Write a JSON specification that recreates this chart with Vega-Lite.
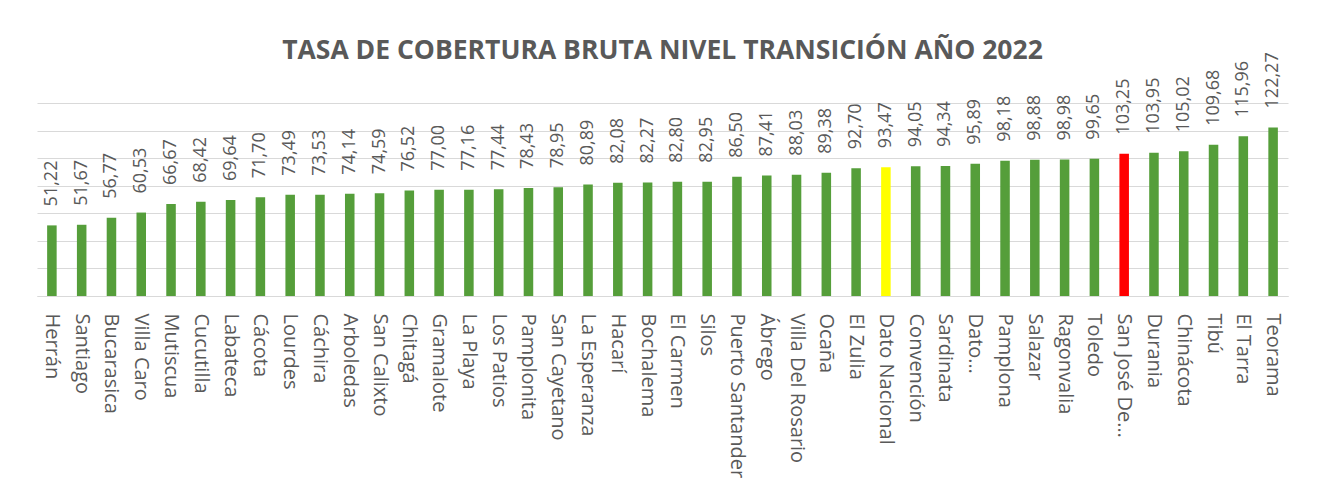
{
  "$schema": "https://vega.github.io/schema/vega-lite/v6.json",
  "width": 1251,
  "height": 193,
  "autosize": {"type": "none"},
  "padding": {"left": 37, "top": 103, "right": 29, "bottom": 199},
  "background": "white",
  "config": {
    "view": {"stroke": null},
    "locale": {"number": {"decimal": ",", "thousands": ".", "grouping": [3], "currency": ["$", ""]}}
  },
  "title": {
    "text": "TASA DE COBERTURA BRUTA NIVEL TRANSICIÓN AÑO 2022",
    "font": "Open Sans",
    "fontSize": 26.5,
    "fontWeight": "bold",
    "color": "#595959",
    "anchor": "middle",
    "frame": "group",
    "offset": -12
  },
  "data": {
    "values": [
      {"municipio": "Herrán", "tasa": 51.22, "tipo": "m"},
      {"municipio": "Santiago", "tasa": 51.67, "tipo": "m"},
      {"municipio": "Bucarasica", "tasa": 56.77, "tipo": "m"},
      {"municipio": "Villa Caro", "tasa": 60.53, "tipo": "m"},
      {"municipio": "Mutiscua", "tasa": 66.67, "tipo": "m"},
      {"municipio": "Cucutilla", "tasa": 68.42, "tipo": "m"},
      {"municipio": "Labateca", "tasa": 69.64, "tipo": "m"},
      {"municipio": "Cácota", "tasa": 71.70, "tipo": "m"},
      {"municipio": "Lourdes", "tasa": 73.49, "tipo": "m"},
      {"municipio": "Cáchira", "tasa": 73.53, "tipo": "m"},
      {"municipio": "Arboledas", "tasa": 74.14, "tipo": "m"},
      {"municipio": "San Calixto", "tasa": 74.59, "tipo": "m"},
      {"municipio": "Chitagá", "tasa": 76.52, "tipo": "m"},
      {"municipio": "Gramalote", "tasa": 77.00, "tipo": "m"},
      {"municipio": "La Playa", "tasa": 77.16, "tipo": "m"},
      {"municipio": "Los Patios", "tasa": 77.44, "tipo": "m"},
      {"municipio": "Pamplonita", "tasa": 78.43, "tipo": "m"},
      {"municipio": "San Cayetano", "tasa": 78.95, "tipo": "m"},
      {"municipio": "La Esperanza", "tasa": 80.89, "tipo": "m"},
      {"municipio": "Hacarí", "tasa": 82.08, "tipo": "m"},
      {"municipio": "Bochalema", "tasa": 82.27, "tipo": "m"},
      {"municipio": "El Carmen", "tasa": 82.80, "tipo": "m"},
      {"municipio": "Silos", "tasa": 82.95, "tipo": "m"},
      {"municipio": "Puerto Santander", "tasa": 86.50, "tipo": "m"},
      {"municipio": "Ábrego", "tasa": 87.41, "tipo": "m"},
      {"municipio": "Villa Del Rosario", "tasa": 88.03, "tipo": "m"},
      {"municipio": "Ocaña", "tasa": 89.38, "tipo": "m"},
      {"municipio": "El Zulia", "tasa": 92.70, "tipo": "m"},
      {"municipio": "Dato Nacional", "tasa": 93.47, "tipo": "nacional"},
      {"municipio": "Convención", "tasa": 94.05, "tipo": "m"},
      {"municipio": "Sardinata", "tasa": 94.34, "tipo": "m"},
      {"municipio": "Dato…", "tasa": 95.89, "tipo": "m"},
      {"municipio": "Pamplona", "tasa": 98.18, "tipo": "m"},
      {"municipio": "Salazar", "tasa": 98.88, "tipo": "m"},
      {"municipio": "Ragonvalia", "tasa": 98.98, "tipo": "m"},
      {"municipio": "Toledo", "tasa": 99.65, "tipo": "m"},
      {"municipio": "San José De…", "tasa": 103.25, "tipo": "capital"},
      {"municipio": "Durania", "tasa": 103.95, "tipo": "m"},
      {"municipio": "Chinácota", "tasa": 105.02, "tipo": "m"},
      {"municipio": "Tibú", "tasa": 109.68, "tipo": "m"},
      {"municipio": "El Tarra", "tasa": 115.96, "tipo": "m"},
      {"municipio": "Teorama", "tasa": 122.27, "tipo": "m"}
    ]
  },
  "encoding": {
    "x": {
      "field": "municipio",
      "type": "nominal",
      "sort": null,
      "title": null,
      "scale": {"paddingInner": 0.68, "paddingOuter": 0.34},
      "axis": {
        "labelAngle": 90,
        "labelAlign": "left",
        "labelBaseline": "middle",
        "labelFont": "Open Sans",
        "labelFontSize": 20,
        "labelColor": "#595959",
        "labelPadding": 17,
        "labelLimit": 300,
        "ticks": false,
        "domainColor": "#D9D9D9",
        "domainWidth": 1,
        "grid": false
      }
    },
    "y": {
      "field": "tasa",
      "type": "quantitative",
      "title": null,
      "scale": {"domain": [0, 140], "nice": false},
      "axis": {
        "values": [0, 20, 40, 60, 80, 100, 120, 140],
        "labels": false,
        "ticks": false,
        "domain": false,
        "grid": true,
        "gridColor": "#D9D9D9",
        "gridWidth": 1
      }
    }
  },
  "layer": [
    {
      "mark": {"type": "bar"},
      "encoding": {
        "color": {
          "field": "tipo",
          "type": "nominal",
          "scale": {"domain": ["m", "nacional", "capital"], "range": ["#559E3A", "#FFFF00", "#FF0000"]},
          "legend": null
        }
      }
    },
    {
      "mark": {
        "type": "text",
        "angle": 270,
        "align": "left",
        "baseline": "middle",
        "dx": 19,
        "font": "Open Sans",
        "fontSize": 18,
        "color": "#595959"
      },
      "encoding": {
        "text": {"field": "tasa", "type": "quantitative", "format": ".2f"}
      }
    }
  ]
}
